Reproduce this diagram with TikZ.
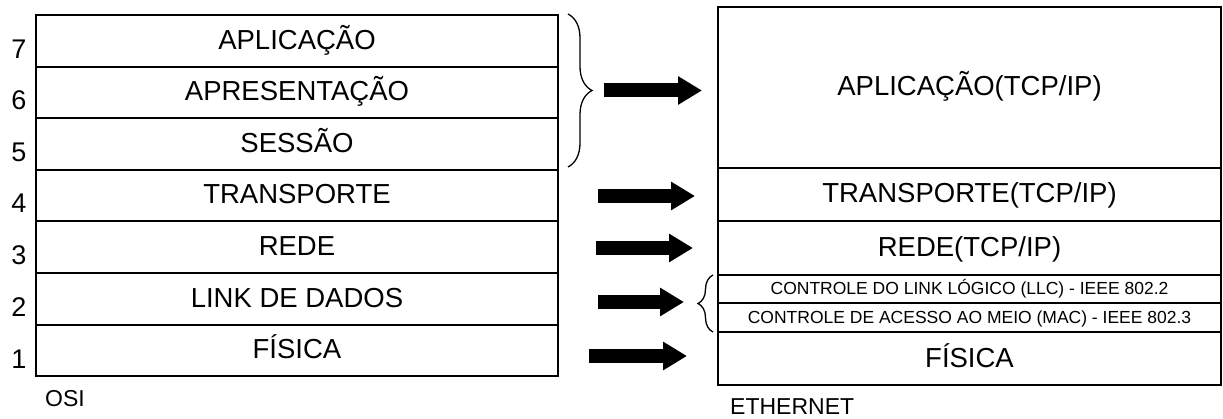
\documentclass[tikz,border=0pt]{standalone}
\usepackage{fontspec}
\setmainfont{Liberation Sans}
\usetikzlibrary{arrows.meta,decorations.pathreplacing}
\tikzset{
  lay/.style={draw=black,line width=1.7pt,inner sep=0pt,rectangle,
    font=\fontsize{27.5}{31}\selectfont,text height=18.5pt,text depth=1.5pt},
  osirow/.style={lay,minimum width=522pt},
  ethrow/.style={lay,minimum width=503pt},
  smalltxt/.style={font=\fontsize{17.5}{20}\selectfont,text height=12.5pt,text depth=0.5pt},
  num/.style={anchor=base,inner sep=0pt,font=\fontsize{27}{30}\selectfont},
  lbl/.style={anchor=base west,inner sep=0pt,font=\fontsize{23}{27}\selectfont},
  fatarrow/.style={line width=14pt,line cap=butt,-{Triangle[length=24pt,width=27pt]}},
  bigbrace/.style={decorate,decoration={brace,amplitude=24pt},line width=1.3pt},
  smallbrace/.style={decorate,decoration={brace,amplitude=15pt},line width=1.3pt}
}
\begin{document}
\begin{tikzpicture}[x=1pt,y=-1pt]
\useasboundingbox (0,0) rectangle (1223,419);
% OSI stack
\node[osirow,minimum height=52pt] (o7) at (297,41) {APLICAÇÃO};
\node[osirow,minimum height=51pt] (o6) at (297,92.5) {APRESENTAÇÃO};
\node[osirow,minimum height=52pt] (o5) at (297,144) {SESSÃO};
\node[osirow,minimum height=51pt] (o4) at (297,195.5) {TRANSPORTE};
\node[osirow,minimum height=52pt] (o3) at (297,247) {REDE};
\node[osirow,minimum height=52pt] (o2) at (297,299) {LINK DE DADOS};
\node[osirow,minimum height=51pt] (o1) at (297,350.5) {FÍSICA};
% layer numbers
\node[num] (n7) at (19,59) {7};
\node[num] (n6) at (19,110) {6};
\node[num] (n5) at (19,162) {5};
\node[num] (n4) at (19,213) {4};
\node[num] (n3) at (19,265) {3};
\node[num] (n2) at (19,317) {2};
\node[num] (n1) at (19,368) {1};
\node[lbl] (osi) at (45,406) {OSI};
% Ethernet stack
\node[ethrow,minimum height=161pt] (e7) at (969.5,87.5) {APLICAÇÃO(TCP/IP)};
\node[ethrow,minimum height=53pt] (e4) at (969.5,194.5) {TRANSPORTE(TCP/IP)};
\node[ethrow,minimum height=54pt] (e3) at (969.5,248) {REDE(TCP/IP)};
\node[ethrow,smalltxt,minimum height=28pt] (e2a) at (969.5,289) {CONTROLE DO LINK LÓGICO (LLC) - IEEE 802.2};
\node[ethrow,smalltxt,minimum height=29pt] (e2b) at (969.5,317.5) {CONTROLE DE ACESSO AO MEIO (MAC) - IEEE 802.3};
\node[ethrow,minimum height=53pt] (e1) at (969.5,358.5) {FÍSICA};
\node[lbl] (eth) at (730,414) {ETHERNET};
% braces
\coordinate (b1s) at (568,14);
\coordinate (b1e) at (568,167);
\draw[bigbrace] (b1s) -- (b1e);
\coordinate (b2s) at (713,332);
\coordinate (b2e) at (713,275);
\draw[smallbrace] (b2s) -- (b2e);
% arrows
\coordinate (a1s) at (604,90.5);  \coordinate (a1e) at (702,90.5);
\coordinate (a2s) at (598,196);   \coordinate (a2e) at (695,196);
\coordinate (a3s) at (596,248);   \coordinate (a3e) at (693,248);
\coordinate (a4s) at (598,302);   \coordinate (a4e) at (684,302);
\coordinate (a5s) at (589,356);   \coordinate (a5e) at (687,356);
\draw[fatarrow] (a1s) -- (a1e);
\draw[fatarrow] (a2s) -- (a2e);
\draw[fatarrow] (a3s) -- (a3e);
\draw[fatarrow] (a4s) -- (a4e);
\draw[fatarrow] (a5s) -- (a5e);
\end{tikzpicture}
\end{document}
